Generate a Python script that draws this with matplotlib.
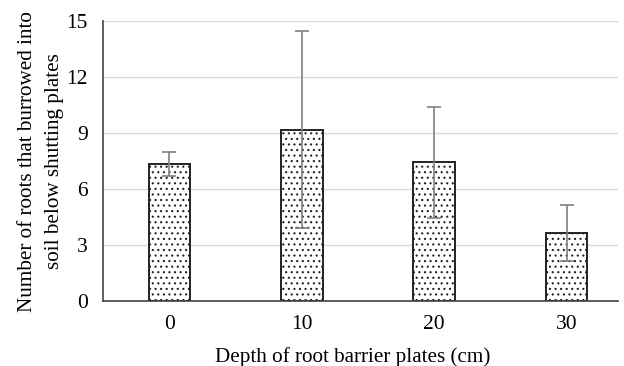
import matplotlib.pyplot as plt
import numpy as np

# valores
profundidades = ['0', '10', '20', '30']
medias = [7.35, 9.2, 7.45, 3.65]
erros = [0.65, 5.27, 2.97, 1.5]

plt.rcParams['font.family'] = ['Liberation Serif', 'DejaVu Serif']
plt.rcParams['hatch.color'] = '#5a5a5a'
plt.rcParams['hatch.linewidth'] = 0.8

fig = plt.figure(figsize=(6.24, 3.66), dpi=100)
ax = fig.add_axes([0.1655, 0.1768, 0.8245, 0.765])

x = np.arange(len(profundidades))
ax.bar(x, medias, width=0.314, color='white', edgecolor='#222222',
       linewidth=1.4, hatch='...', zorder=2)
ax.errorbar(x, medias, yerr=erros, fmt='none', ecolor='#7f7f7f',
            elinewidth=1.2, capsize=5, capthick=1.2, zorder=3)

ax.set_ylim(0, 15)
ax.set_yticks([0, 3, 6, 9, 12, 15])
ax.set_xlim(-0.5, 3.386)
ax.set_xticks(x)
ax.set_xticklabels(profundidades)
ax.tick_params(length=0, labelsize=15.5, pad=10)
ax.tick_params(axis='y', pad=11)
ax.yaxis.grid(True, color='#d9d9d9', linewidth=1)
ax.set_axisbelow(True)

for s in ['top', 'right']:
    ax.spines[s].set_visible(False)
ax.spines['left'].set_color('#444444')
ax.spines['bottom'].set_color('#444444')
ax.spines['left'].set_linewidth(1.2)
ax.spines['bottom'].set_linewidth(1.2)

ax.set_xlabel('Depth of root barrier plates (cm)', fontsize=15.2, labelpad=9)
ax.xaxis.label.set_x(0.484)
ax.set_ylabel('Number of roots that burrowed into\nsoil below shutting plates',
              fontsize=15.2, labelpad=2, linespacing=1.55)

plt.savefig('out.png', dpi=100)
